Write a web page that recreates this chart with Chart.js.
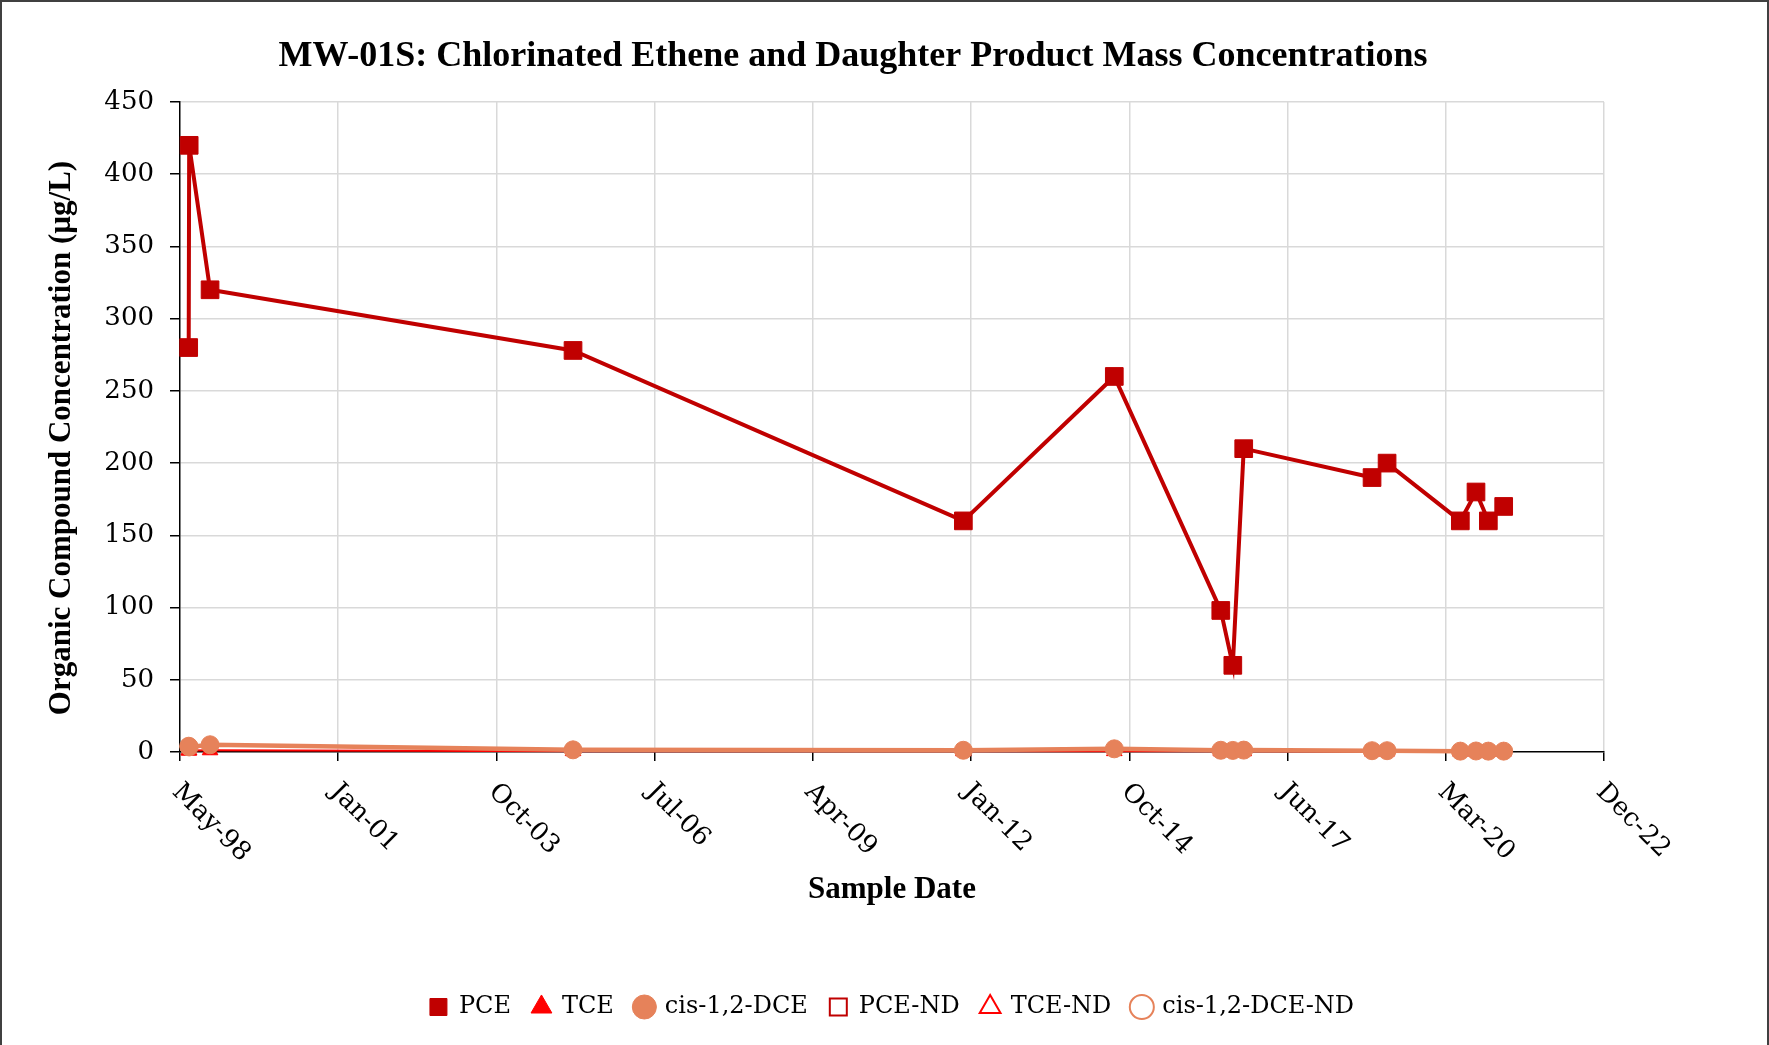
<!DOCTYPE html>
<html>
<head>
<meta charset="utf-8">
<script src="https://cdn.jsdelivr.net/npm/chart.js@4.4.1/dist/chart.umd.min.js"></script>
<style>
    html, body { margin: 0; padding: 0; background: #fff; }
    #wrap { width: 1769px; height: 1045px; }
</style>
</head>
<body>
<div id="wrap"><canvas id="chart" width="1769" height="1045"></canvas></div>
<script>
var chartTitle = 'MW-01S: Chlorinated Ethene and Daughter Product Mass Concentrations';
var yTitle = 'Organic Compound Concentration (µg/L)';
var xTitle = 'Sample Date';

var sampleDates = ['1998-06-25', '1998-06-28', '1998-11-07', '2005-02-17', '2011-11-20', '2014-07-01',
    '2016-05-04', '2016-07-19', '2016-09-26', '2018-12-16', '2019-03-21', '2020-06-26',
    '2020-10-03', '2020-12-20', '2021-03-27'];
var pceValues = [280, 420, 320, 278, 160, 260, 98, 60, 210, 190, 200, 160, 180, 160, 170];
var tceValues = [1, 1, 1.2, 0.6, 0.5, 0.6, 0.5, 0.5, 0.5, 0.4, 0.4, 0.3, 0.3, 0.3, 0.3];
var dceValues = [4, 3.5, 5, 1.5, 1.2, 2.2, 1.2, 1.1, 1.3, 0.9, 0.9, 0.6, 0.7, 0.6, 0.6];

var xTickLabels = ['May-98', 'Jan-01', 'Oct-03', 'Jul-06', 'Apr-09', 'Jan-12', 'Oct-14', 'Jun-17', 'Mar-20', 'Dec-22'];
var xStartDate = '1998-05-01';
var xTickStepDays = 1000;
var yMin = 0, yMax = 450, yStep = 50;

var seriesNames = ['PCE', 'TCE', 'cis-1,2-DCE', 'PCE-ND', 'TCE-ND', 'cis-1,2-DCE-ND'];

function toDay(s) {
    var p = s.split('-');
    return Date.UTC(+p[0], +p[1] - 1, +p[2]) / 86400000;
}

function pairs(values) {
    return sampleDates.map(function (d, i) {
        return { x: toDay(d), y: values[i] };
    });
}

var PCE_RED = '#C00000';
var TCE_RED = '#FF0000';
var DCE_ORANGE = '#E6825A';

var drawExtras = {
    id: 'drawExtras',
    beforeDraw: function (chart) {
        var ctx = chart.ctx;
        ctx.save();
        ctx.fillStyle = '#fff';
        ctx.fillRect(0, 0, chart.width, chart.height);
        ctx.strokeStyle = '#404040';
        ctx.lineWidth = 2;
        ctx.strokeRect(1, 1, chart.width - 2, chart.height + 10);
        ctx.restore();
    },
    afterDraw: function (chart) {
        var ctx = chart.ctx;
        var xs = chart.scales.x;
        ctx.save();
        ctx.fillStyle = '#000';
        ctx.textAlign = 'center';
        ctx.textBaseline = 'middle';
        ctx.font = 'bold 36px "Liberation Serif"';
        ctx.fillText(chartTitle, 853, 57);

        // y axis title, centred where the original sits
        ctx.save();
        ctx.translate(62, 438);
        ctx.rotate(-Math.PI / 2);
        ctx.font = 'bold 31px "Liberation Serif"';
        ctx.fillText(yTitle, 0, 0);
        ctx.restore();

        // rotated date labels, reading down to the right
        ctx.font = '26px "DejaVu Serif"';
        ctx.textAlign = 'left';
        xs.ticks.forEach(function (t, i) {
            var px = xs.getPixelForValue(t.value);
            ctx.save();
            ctx.translate(px - 4, xs.top + 36);
            ctx.rotate(Math.PI / 4);
            ctx.fillText(xTickLabels[i], 0, 0);
            ctx.restore();
        });
        ctx.restore();
    }
};

function seriesSet(label, values, color, style, radius, lineWidth, order) {
    return {
        label: label,
        data: pairs(values),
        borderColor: color,
        backgroundColor: color,
        pointStyle: style,
        pointRadius: radius,
        pointHoverRadius: radius,
        pointBorderWidth: 1,
        borderWidth: lineWidth,
        tension: 0,
        clip: false,
        order: order
    };
}

function ndSet(label, color, style) {
    return {
        label: label,
        data: [],
        showLine: false,
        borderColor: color,
        backgroundColor: '#FFFFFF',
        pointStyle: style,
        pointRadius: 8,
        pointBorderWidth: 2,
        order: 5
    };
}

var datasets = [
    seriesSet(seriesNames[0], pceValues, PCE_RED, 'rect', 12.5, 4, 3),
    seriesSet(seriesNames[1], tceValues, TCE_RED, 'triangle', 9, 2, 2),
    seriesSet(seriesNames[2], dceValues, DCE_ORANGE, 'circle', 9, 4.5, 1),
    ndSet(seriesNames[3], PCE_RED, 'rect'),
    ndSet(seriesNames[4], TCE_RED, 'triangle'),
    ndSet(seriesNames[5], DCE_ORANGE, 'circle')
];

var startDay = toDay(xStartDate);

new Chart(document.getElementById('chart').getContext('2d'), {
    type: 'line',
    data: { datasets: datasets },
    plugins: [drawExtras],
    options: {
        responsive: false,
        animation: false,
        layout: { padding: { top: 102, right: 165, bottom: 16, left: 0 } },
        plugins: {
            title: { display: false },
            tooltip: { enabled: false },
            legend: {
                position: 'bottom',
                fullSize: false,
                labels: {
                    usePointStyle: true,
                    boxWidth: 17,
                    boxHeight: 17,
                    padding: 22,
                    color: '#000',
                    font: { family: '"DejaVu Serif"', size: 24 },
                    sort: function (a, b) { return a.datasetIndex - b.datasetIndex; }
                }
            }
        },
        scales: {
            x: {
                type: 'linear',
                min: startDay,
                max: startDay + (xTickLabels.length - 1) * xTickStepDays,
                afterBuildTicks: function (scale) {
                    scale.ticks = xTickLabels.map(function (lab, i) {
                        return { value: startDay + i * xTickStepDays };
                    });
                },
                afterFit: function (scale) { scale.height = 221; },
                ticks: { display: false },
                grid: {
                    color: function (c) { return c.index === 0 ? 'rgba(0,0,0,0)' : '#D9D9D9'; },
                    lineWidth: 1.5,
                    tickLength: 9,
                    tickColor: '#000',
                    tickWidth: 1.5
                },
                border: { color: '#000', width: 1.5 },
                title: {
                    display: true,
                    text: xTitle,
                    color: '#000',
                    font: { family: '"Liberation Serif"', size: 31, weight: 'bold' },
                    padding: { top: 0, bottom: 64 }
                }
            },
            y: {
                min: yMin,
                max: yMax,
                afterFit: function (scale) { scale.width = 180; },
                ticks: {
                    stepSize: yStep,
                    color: '#000',
                    padding: 16,
                    font: { family: '"DejaVu Serif"', size: 26 }
                },
                grid: {
                    color: function (c) { return c.index === 0 ? 'rgba(0,0,0,0)' : '#D9D9D9'; },
                    lineWidth: 1.5,
                    tickLength: 10,
                    tickColor: '#000',
                    tickWidth: 1.5
                },
                border: { color: '#000', width: 1.5 },
                title: { display: false }
            }
        }
    }
});
</script>
</body>
</html>
